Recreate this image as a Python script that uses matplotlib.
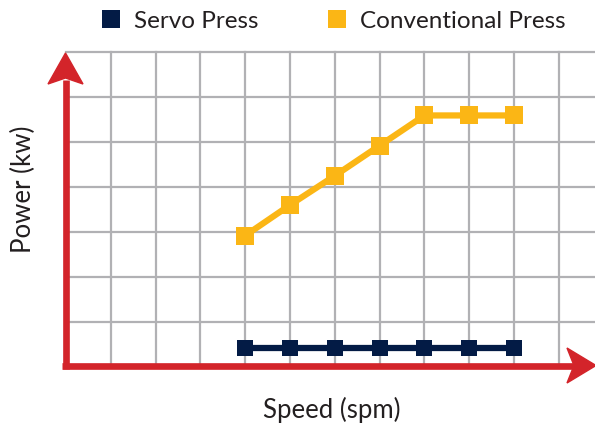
import matplotlib
matplotlib.use("Agg")
import matplotlib.pyplot as plt
from matplotlib.lines import Line2D
from matplotlib.patches import Polygon

# data (grid units)
speed = [4, 5, 6, 7, 8, 9, 10]
servo_power = [0.42, 0.42, 0.42, 0.42, 0.42, 0.42, 0.42]
conventional_power = [2.92, 3.6, 4.25, 4.92, 5.59, 5.59, 5.59]
series_names = ["Servo Press", "Conventional Press"]

NAVY = "#031b45"
GOLD = "#fbb615"
RED = "#d3242a"
GRID = "#b1b1b4"
TEXT = "#231f20"

plt.rcParams["font.family"] = ["Lato", "DejaVu Sans"]

W, H = 595, 425
fig = plt.figure(figsize=(W / 100, H / 100), dpi=100)


def px(x, y):
    # pixel position (from top-left) -> figure fraction
    return (x / W, 1 - y / H)


ax = fig.add_axes([66 / W, 1 - 367 / H, 529 / W, 315 / H])
ax.set_xlim(0, 529 / 44.8)
ax.set_ylim(0, 7)
ax.set_xticks(range(1, 12))
ax.set_yticks(range(1, 8))
ax.tick_params(length=0, labelbottom=False, labelleft=False)
for s in ax.spines.values():
    s.set_visible(False)
ax.grid(True, color=GRID, linewidth=1.6)
for gl in ax.get_ygridlines() + ax.get_xgridlines():
    gl.set_clip_on(False)
ax.set_axisbelow(True)

ax.plot(speed, conventional_power, color=GOLD, linewidth=4.5, marker="s",
        markersize=12.5, markeredgewidth=0, zorder=3)
ax.plot(speed, servo_power, color=NAVY, linewidth=4.5, marker="s",
        markersize=12, markeredgewidth=0, zorder=3)

# red axes with swept-back arrow heads
fig.add_artist(Line2D([px(65.5, 369)[0], px(65.5, 80)[0]],
                      [px(65.5, 369)[1], px(65.5, 80)[1]],
                      color=RED, linewidth=4.8, transform=fig.transFigure,
                      solid_capstyle="butt"))
fig.add_artist(Line2D([px(62, 365.5)[0], px(575, 365.5)[0]],
                      [px(62, 365.5)[1], px(575, 365.5)[1]],
                      color=RED, linewidth=4.8, transform=fig.transFigure,
                      solid_capstyle="butt"))
fig.add_artist(Polygon([px(65.5, 53), px(48, 84), px(65.5, 78), px(83, 84)],
                       closed=True, color=RED, transform=fig.transFigure))
fig.add_artist(Polygon([px(596, 365.5), px(567, 348), px(574, 365.5), px(567, 383)],
                       closed=True, color=RED, transform=fig.transFigure))

fig.text(*px(332, 410), "Speed (spm)", ha="center", va="center",
         fontsize=18.5, color=TEXT)
fig.text(*px(23, 189), "Power (kw)", ha="center", va="center",
         rotation=90, fontsize=18.5, color=TEXT)

handles = [
    Line2D([], [], linestyle="none", marker="s", markersize=12.5,
           markeredgewidth=0, color=NAVY),
    Line2D([], [], linestyle="none", marker="s", markersize=12.5,
           markeredgewidth=0, color=GOLD),
]
fig.legend(handles, series_names, loc="center", bbox_to_anchor=px(334, 21),
           ncol=2, frameon=False, fontsize=17.5, handlelength=0.7,
           handletextpad=0.6, columnspacing=2.9, labelcolor=TEXT)

fig.savefig("out.png", dpi=100)
